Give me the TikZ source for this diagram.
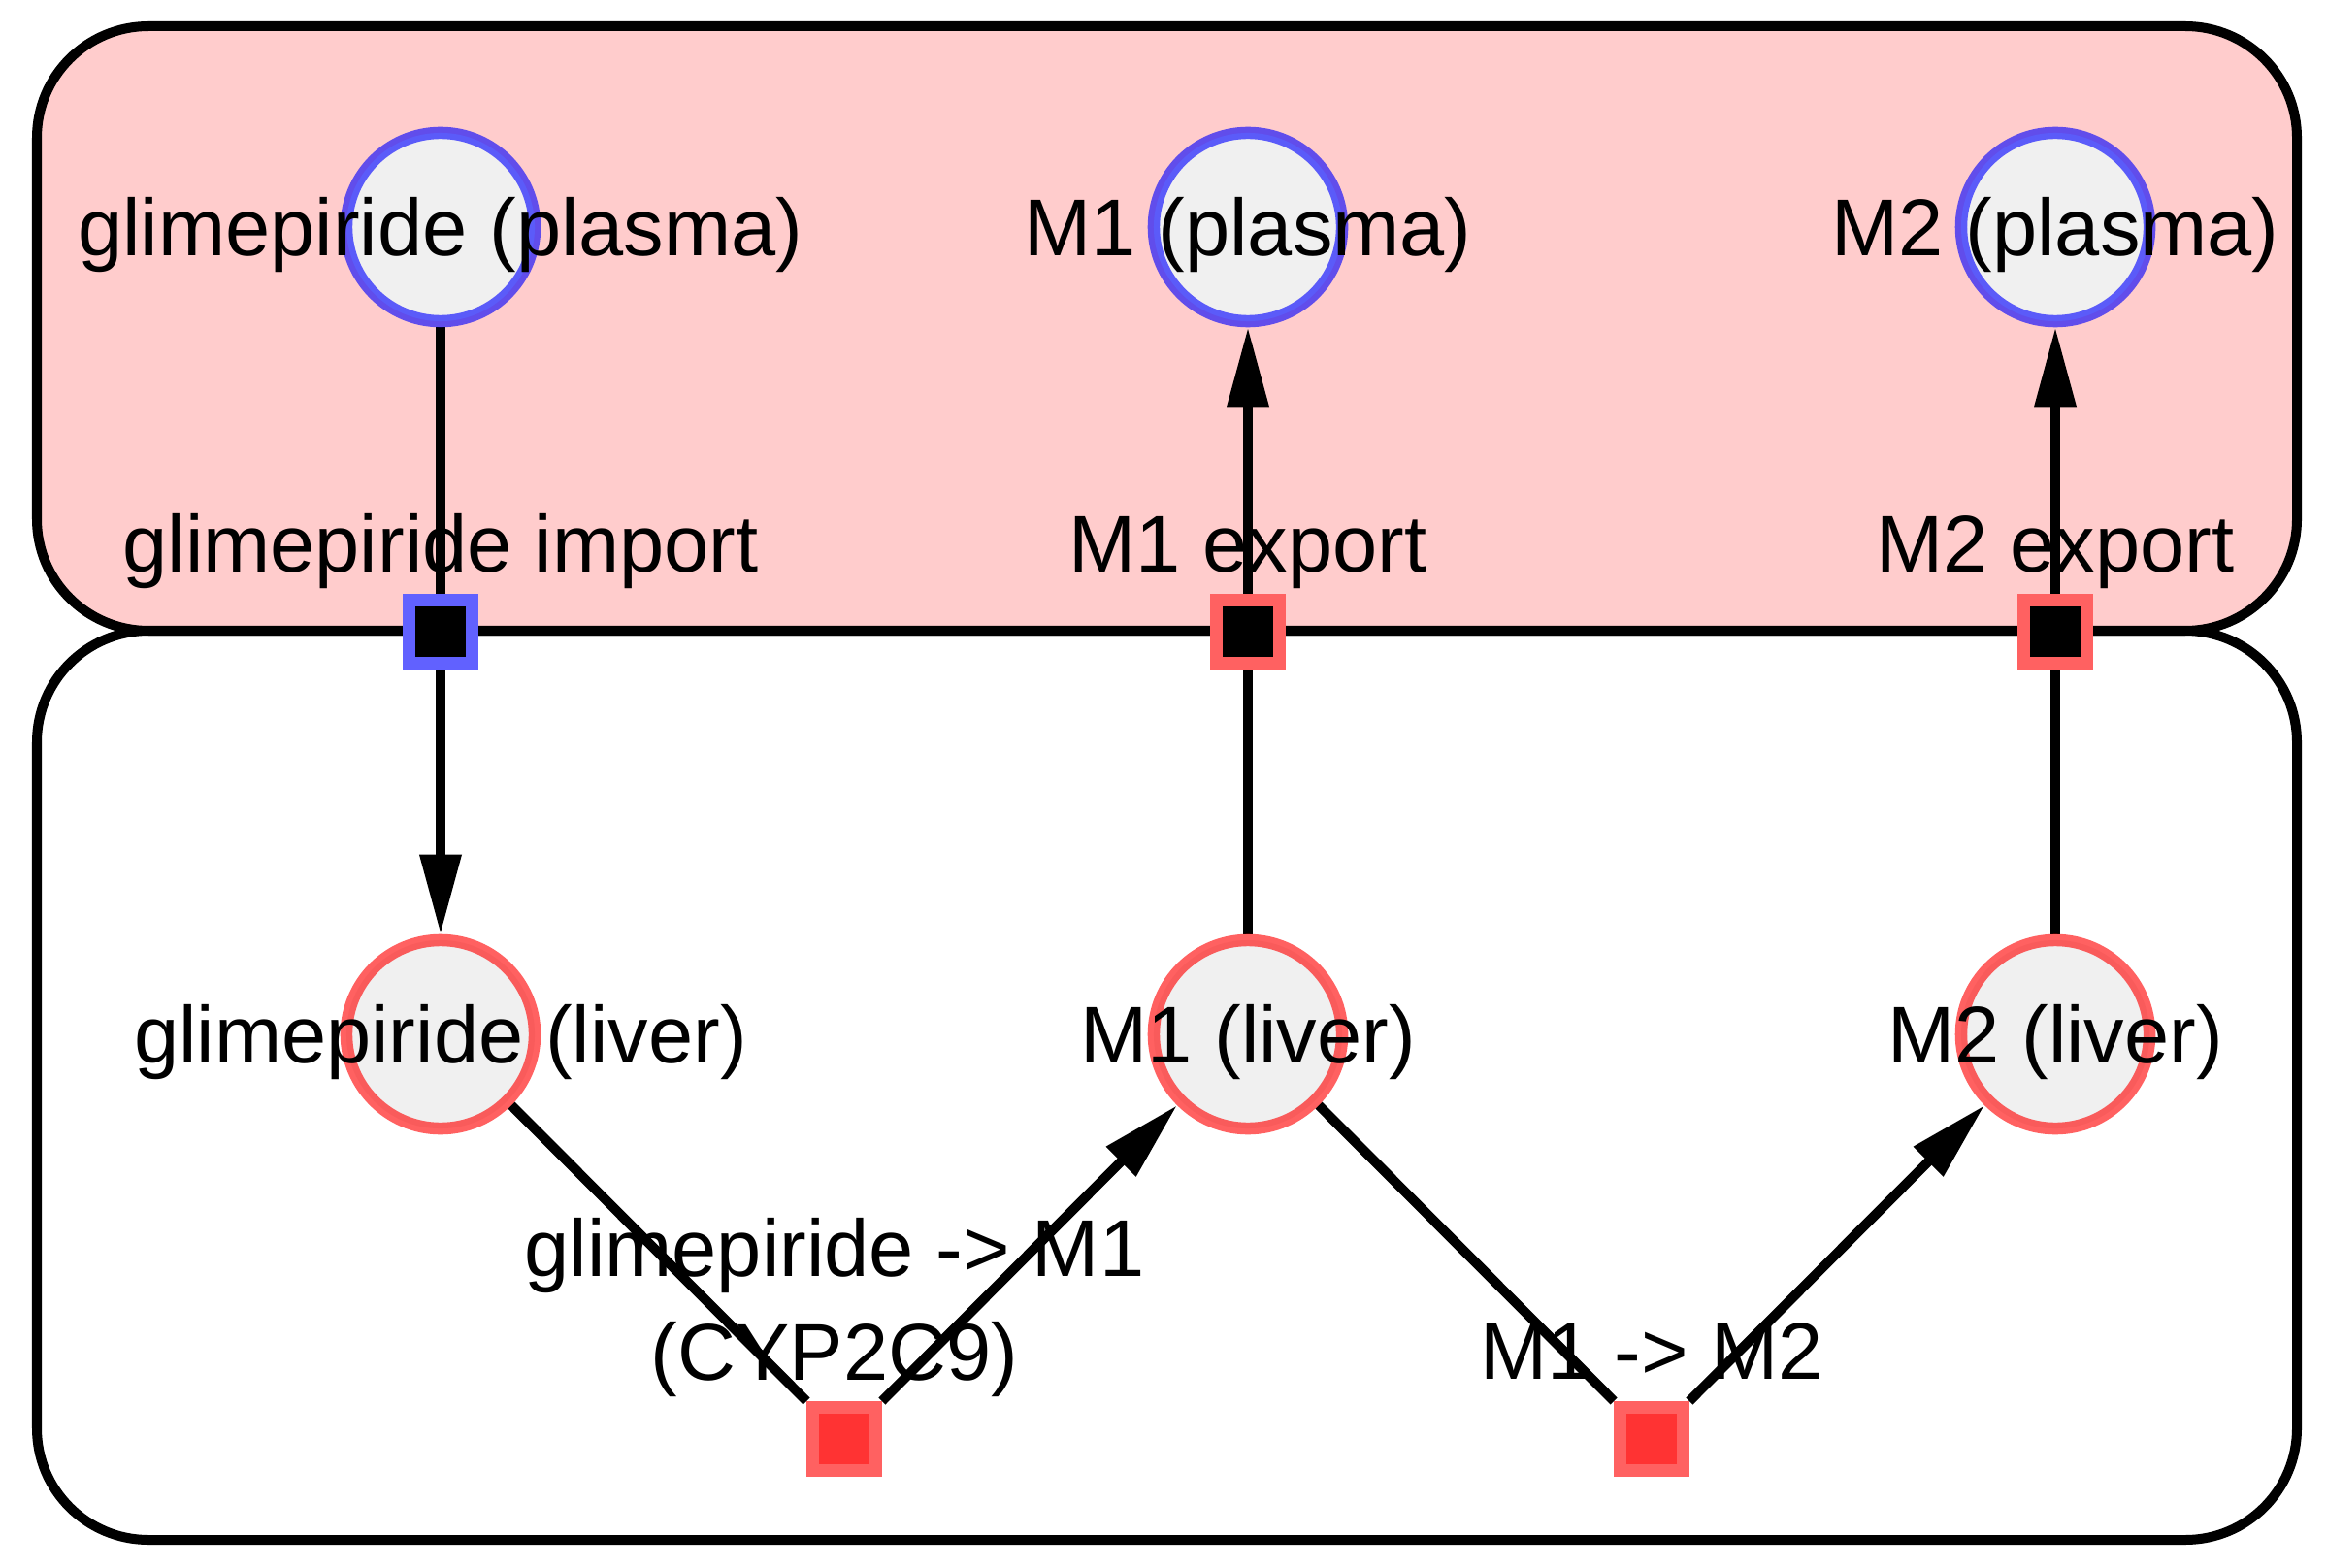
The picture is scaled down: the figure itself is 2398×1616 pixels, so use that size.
\documentclass[tikz,border=0pt]{standalone}
\usepackage{fontspec}
\setmainfont{Liberation Sans}
\usetikzlibrary{arrows.meta}
\definecolor{plasmabg}{RGB}{255,204,204}
\definecolor{speciesbg}{RGB}{240,240,240}
\definecolor{rxnbg}{RGB}{255,51,51}
\definecolor{plasmaline}{RGB}{0,0,255}
\definecolor{liverline}{RGB}{255,0,0}
\definecolor{plasmabox}{RGB}{97,97,255}
\definecolor{liverbox}{RGB}{255,97,97}
\pgfdeclarelayer{bg}
\pgfdeclarelayer{edges}
\pgfsetlayers{bg,edges,main}

\begin{document}
\begin{tikzpicture}[x=0.01cm, y=-0.01cm,
  font=\fontsize{23.6}{30.3}\selectfont,
  comp/.style={draw, line width=1mm, rounded corners=1.15cm},
  species/.style={circle, minimum size=1.94cm, inner sep=0pt, line width=1.25mm,
    draw opacity=0.62, fill=speciesbg},
  transport/.style={rectangle, minimum size=0.65cm, inner sep=0pt, line width=1.3mm,
    fill=black},
  rxn/.style={rectangle, minimum size=0.65cm, inner sep=0pt, line width=1.3mm,
    draw=liverbox, fill=rxnbg},
  txt/.style={text height=17pt, text depth=0pt, inner sep=0pt},
  above txt/.style={txt, label distance=0.22cm},
  edge/.style={draw, line width=1mm},
  arr/.style={-{Triangle[length=8.2mm, width=4.1mm]}}]
  \useasboundingbox (0,0) rectangle (2398,1616);

  % compartments
  \begin{pgfonlayer}{bg}
    \draw[comp, fill=white]    (38,650) rectangle (2367,1587);
    \draw[comp, fill=plasmabg] (38,27)  rectangle (2367,650);
  \end{pgfonlayer}

  % plasma species
  \node[species, draw=plasmaline, label={[txt]center:glimepiride (plasma)}] (glipla) at (454,234) {};
  \node[species, draw=plasmaline, label={[txt]center:M1 (plasma)}] (m1pla) at (1286,234) {};
  \node[species, draw=plasmaline, label={[txt]center:M2 (plasma)}] (m2pla) at (2118,234) {};

  % liver species
  \node[species, draw=liverline, label={[txt]center:glimepiride (liver)}] (gliliv) at (454,1066) {};
  \node[species, draw=liverline, label={[txt]center:M1 (liver)}] (m1liv) at (1286,1066) {};
  \node[species, draw=liverline, label={[txt]center:M2 (liver)}] (m2liv) at (2118,1066) {};

  % transport across the membrane
  \node[transport, draw=plasmabox, label={[above txt]above:glimepiride import}] (gliimp) at (454,651) {};
  \node[transport, draw=liverbox, label={[above txt]above:M1 export}] (m1exp) at (1286,651) {};
  \node[transport, draw=liverbox, label={[above txt]above:M2 export}] (m2exp) at (2118,651) {};

  % reactions
  \node[rxn, label={[align=center, inner sep=0pt, text depth=0pt, xshift=-0.1cm,
    label distance=0.21cm]above:{glimepiride -> M1\\(CYP2C9)}}] (r1) at (870,1483) {};
  \node[rxn, label={[above txt]above:M1 -> M2}] (r2) at (1702,1483) {};

  \begin{pgfonlayer}{edges}
    \draw[edge] (glipla) -- (gliimp);
    \draw[edge, arr] (gliimp) -- (gliliv);
    \draw[edge] (m1liv) -- (m1exp);
    \draw[edge, arr] (m1exp) -- (m1pla);
    \draw[edge] (m2liv) -- (m2exp);
    \draw[edge, arr] (m2exp) -- (m2pla);
    \draw[edge] (gliliv) -- (r1);
    \draw[edge, arr] (r1) -- (m1liv);
    \draw[edge] (m1liv) -- (r2);
    \draw[edge, arr] (r2) -- (m2liv);
  \end{pgfonlayer}
\end{tikzpicture}
\end{document}
